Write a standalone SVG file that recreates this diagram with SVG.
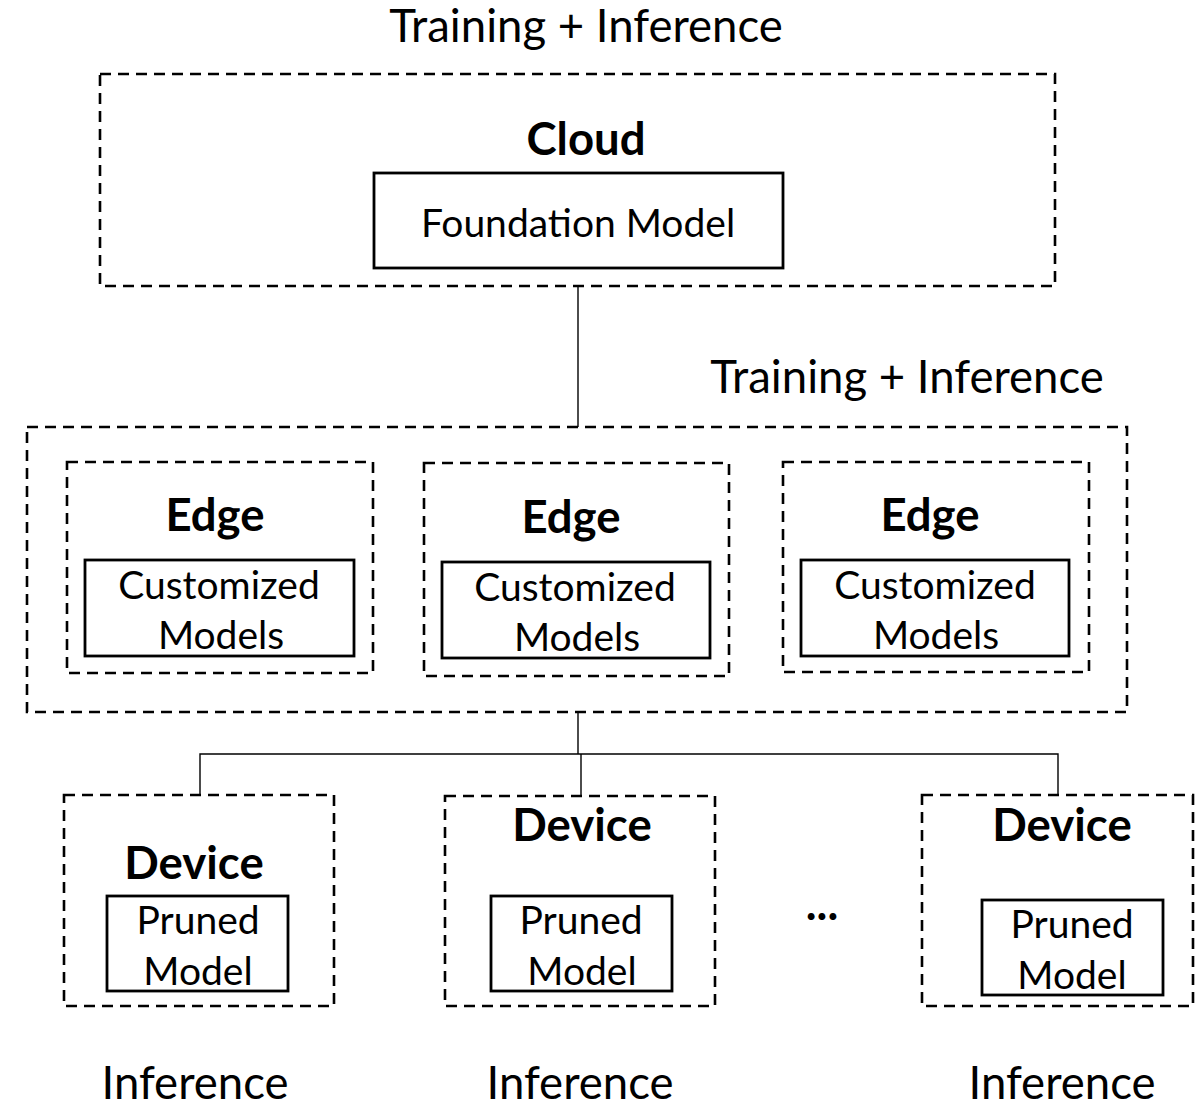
<svg xmlns="http://www.w3.org/2000/svg" width="1199" height="1105" viewBox="0 0 1199 1105">
  <style>
    text { font-family: Lato, "Liberation Sans", sans-serif; fill: #000; text-anchor: middle; }
    .title { font-size: 45.5px; }
    .head { font-size: 45.5px; font-weight: bold; }
    .body { font-size: 39px; }
    .dash { fill: none; stroke: #000; stroke-width: 2.6; stroke-dasharray: 11 7; }
    .solid { fill: #fff; stroke: #000; stroke-width: 2.8; }
    .wire { fill: none; stroke: #000; stroke-width: 1.4; }
  </style>
  <rect width="1199" height="1105" fill="#fff"/>

  <g id="connectors">
    <line class="wire" x1="578" y1="287" x2="578" y2="427"/>
    <line class="wire" x1="578" y1="712" x2="578" y2="754"/>
    <polyline class="wire" points="200,795 200,754 1058,754 1058,795"/>
    <line class="wire" x1="581" y1="754" x2="581" y2="796"/>
  </g>

  <text class="title" x="586" y="42">Training + Inference</text>

  <g id="cloud">
    <rect class="dash" x="100" y="74" width="955" height="212"/>
    <text class="head" x="586" y="155">Cloud</text>
    <g id="foundation-model">
      <rect class="solid" x="374" y="173" width="409" height="95"/>
      <text class="body" x="578" y="237">Foundation Model</text>
    </g>
  </g>

  <text class="title" x="907" y="393">Training + Inference</text>

  <g id="edge-tier">
    <rect class="dash" x="27" y="427" width="1100" height="285"/>
    <g id="edge-1">
      <rect class="dash" x="67" y="462" width="306" height="211"/>
      <text class="head" x="215" y="531">Edge</text>
      <rect class="solid" x="85" y="560" width="269" height="96"/>
      <text class="body" x="219" y="599">Customized</text>
      <text class="body" x="221" y="649">Models</text>
    </g>
    <g id="edge-2">
      <rect class="dash" x="424" y="463" width="305" height="213"/>
      <text class="head" x="571" y="533">Edge</text>
      <rect class="solid" x="442" y="562" width="268" height="96"/>
      <text class="body" x="575" y="601">Customized</text>
      <text class="body" x="577" y="651">Models</text>
    </g>
    <g id="edge-3">
      <rect class="dash" x="783" y="462" width="306" height="210"/>
      <text class="head" x="930" y="531">Edge</text>
      <rect class="solid" x="801" y="560" width="268" height="96"/>
      <text class="body" x="935" y="599">Customized</text>
      <text class="body" x="936" y="649">Models</text>
    </g>
  </g>

  <g id="device-1">
    <rect class="dash" x="64" y="795" width="270" height="211"/>
    <text class="head" x="194" y="879">Device</text>
    <rect class="solid" x="107" y="896" width="181" height="95"/>
    <text class="body" x="198" y="934">Pruned</text>
    <text class="body" x="198" y="985">Model</text>
  </g>

  <g id="device-2">
    <rect class="dash" x="445" y="796" width="270" height="210"/>
    <text class="head" x="582" y="841">Device</text>
    <rect class="solid" x="491" y="896" width="181" height="95"/>
    <text class="body" x="581" y="934">Pruned</text>
    <text class="body" x="582" y="985">Model</text>
  </g>

  <text class="head" x="822" y="920">...</text>

  <g id="device-3">
    <rect class="dash" x="922" y="795" width="271" height="211"/>
    <text class="head" x="1062" y="841">Device</text>
    <rect class="solid" x="982" y="900" width="181" height="95"/>
    <text class="body" x="1072" y="938">Pruned</text>
    <text class="body" x="1072" y="989">Model</text>
  </g>

  <text class="title" x="195" y="1099">Inference</text>
  <text class="title" x="580" y="1099">Inference</text>
  <text class="title" x="1062" y="1099">Inference</text>
</svg>
